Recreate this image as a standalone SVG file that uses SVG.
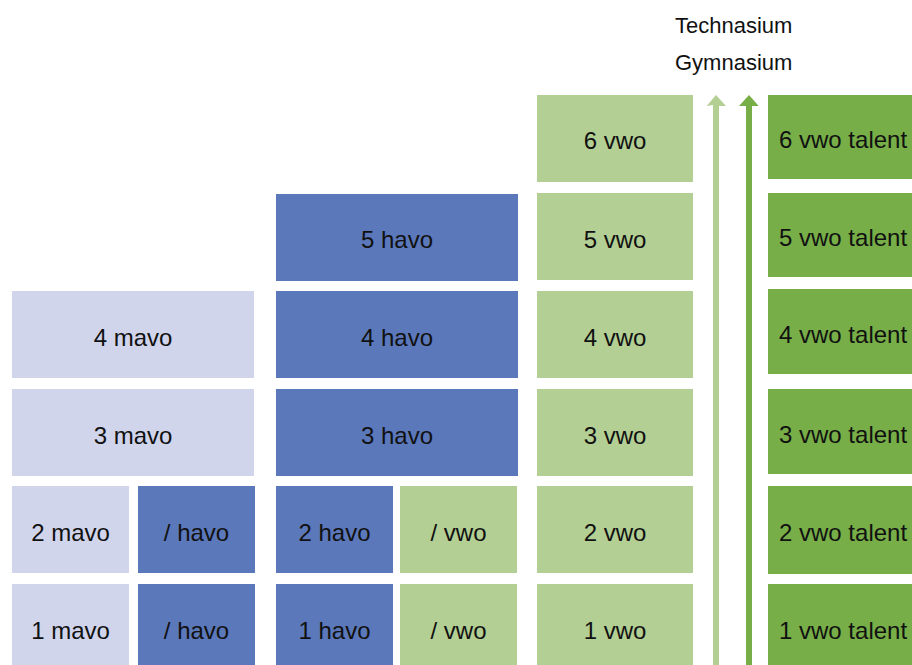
<svg xmlns="http://www.w3.org/2000/svg" width="912" height="665" viewBox="0 0 912 665">
<style>
text{font-family:"Liberation Sans",Arial,sans-serif;font-size:24px;fill:#111}
.t{font-size:22px}
.c{text-anchor:middle}
.mavo{fill:#D0D5EC}
.havo{fill:#5B78BB}
.vwo{fill:#B3CF94}
.tal{fill:#77AE48}
</style>
<rect width="912" height="665" fill="#fff"/>
<g id="titles">
<text class="t" x="675" y="33">Technasium</text>
<text class="t" x="675" y="70">Gymnasium</text>
</g>
<g id="connectors">
<path d="M713,105 L706.7,106 L716,95 L726,106 L719,106 L719,665 L713,665 Z" fill="#B3CF94"/>
<path d="M746,106 L739,106 L749,95 L758.7,106 L752,106 L752,665 L746,665 Z" fill="#77AE48"/>
</g>
<g id="mavo4"><rect class="mavo" x="12" y="291" width="242" height="87"/><text class="c" x="133" y="345.5">4 mavo</text></g>
<g id="mavo3"><rect class="mavo" x="12" y="389" width="242" height="87"/><text class="c" x="133" y="443.5">3 mavo</text></g>
<g id="mavo2"><rect class="mavo" x="12" y="486" width="117" height="87"/><text class="c" x="70.5" y="540.5">2 mavo</text></g>
<g id="mavo1"><rect class="mavo" x="12" y="584" width="117" height="87"/><text class="c" x="70.5" y="638.5">1 mavo</text></g>
<g id="havo2s"><rect class="havo" x="138" y="486" width="117" height="87"/><text class="c" x="196.5" y="540.5">/ havo</text></g>
<g id="havo1s"><rect class="havo" x="138" y="584" width="117" height="87"/><text class="c" x="196.5" y="638.5">/ havo</text></g>
<g id="havo5"><rect class="havo" x="276" y="194" width="242" height="87"/><text class="c" x="397" y="247.5">5 havo</text></g>
<g id="havo4"><rect class="havo" x="276" y="291" width="242" height="87"/><text class="c" x="397" y="345.5">4 havo</text></g>
<g id="havo3"><rect class="havo" x="276" y="389" width="242" height="87"/><text class="c" x="397" y="443.5">3 havo</text></g>
<g id="havo2"><rect class="havo" x="276" y="486" width="117" height="87"/><text class="c" x="334.5" y="540.5">2 havo</text></g>
<g id="havo1"><rect class="havo" x="276" y="584" width="117" height="87"/><text class="c" x="334.5" y="638.5">1 havo</text></g>
<g id="vwo2s"><rect class="vwo" x="400" y="486" width="117" height="87"/><text class="c" x="458.5" y="540.5">/ vwo</text></g>
<g id="vwo1s"><rect class="vwo" x="400" y="584" width="117" height="87"/><text class="c" x="458.5" y="638.5">/ vwo</text></g>
<g id="vwo6"><rect class="vwo" x="537" y="95" width="156" height="87"/><text class="c" x="615" y="149">6 vwo</text></g>
<g id="vwo5"><rect class="vwo" x="537" y="193" width="156" height="87"/><text class="c" x="615" y="247.5">5 vwo</text></g>
<g id="vwo4"><rect class="vwo" x="537" y="291" width="156" height="87"/><text class="c" x="615" y="345.5">4 vwo</text></g>
<g id="vwo3"><rect class="vwo" x="537" y="389" width="156" height="87"/><text class="c" x="615" y="443.5">3 vwo</text></g>
<g id="vwo2"><rect class="vwo" x="537" y="486" width="156" height="87"/><text class="c" x="615" y="540.5">2 vwo</text></g>
<g id="vwo1"><rect class="vwo" x="537" y="584" width="156" height="87"/><text class="c" x="615" y="638.5">1 vwo</text></g>
<g id="tal6"><rect class="tal" x="768" y="95" width="160" height="84"/><text x="779" y="148">6 vwo talent</text></g>
<g id="tal5"><rect class="tal" x="768" y="193" width="160" height="84"/><text x="779" y="246">5 vwo talent</text></g>
<g id="tal4"><rect class="tal" x="768" y="289" width="160" height="85"/><text x="779" y="342.5">4 vwo talent</text></g>
<g id="tal3"><rect class="tal" x="768" y="389" width="160" height="85"/><text x="779" y="442.5">3 vwo talent</text></g>
<g id="tal2"><rect class="tal" x="768" y="486" width="160" height="88"/><text x="779" y="541">2 vwo talent</text></g>
<g id="tal1"><rect class="tal" x="768" y="584" width="160" height="87"/><text x="779" y="638.5">1 vwo talent</text></g>
</svg>
